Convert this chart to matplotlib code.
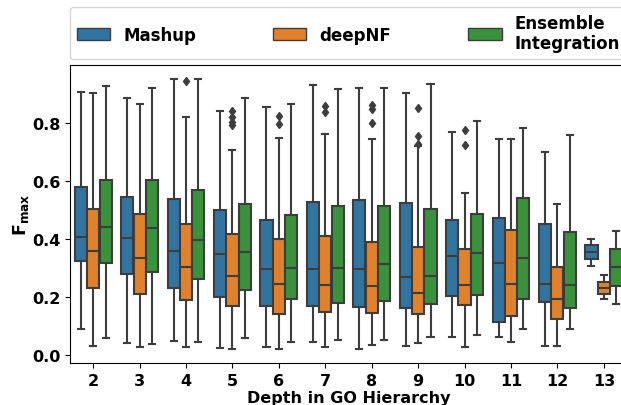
import matplotlib
matplotlib.use("Agg")
import matplotlib.pyplot as plt
from matplotlib.patches import Patch

# Depth categories and methods
depths = ["2", "3", "4", "5", "6", "7", "8", "9", "10", "11", "12", "13"]
methods = ["Mashup", "deepNF", "Ensemble\nIntegration"]

# Mashup five-number summaries per depth
mashup_lo = [0.092, 0.044, 0.050, 0.025, 0.028, 0.045, 0.023, 0.032, 0.065, 0.064, 0.034, 0.309]
mashup_q1 = [0.324, 0.280, 0.232, 0.203, 0.170, 0.170, 0.166, 0.162, 0.204, 0.115, 0.185, 0.332]
mashup_med = [0.408, 0.405, 0.360, 0.351, 0.299, 0.299, 0.298, 0.270, 0.343, 0.318, 0.247, 0.356]
mashup_q3 = [0.581, 0.547, 0.539, 0.501, 0.466, 0.530, 0.536, 0.524, 0.467, 0.473, 0.454, 0.379]
mashup_hi = [0.906, 0.888, 0.952, 0.843, 0.854, 0.932, 0.920, 0.904, 0.771, 0.746, 0.700, 0.402]
mashup_fliers = [[], [], [], [], [], [], [], [], [], [], [], []]

# deepNF
deepnf_lo = [0.032, 0.030, 0.028, 0.023, 0.021, 0.028, 0.036, 0.044, 0.028, 0.046, 0.032, 0.193]
deepnf_q1 = [0.232, 0.211, 0.190, 0.169, 0.142, 0.149, 0.146, 0.142, 0.173, 0.137, 0.127, 0.212]
deepnf_med = [0.361, 0.337, 0.306, 0.275, 0.246, 0.244, 0.240, 0.215, 0.244, 0.246, 0.194, 0.234]
deepnf_q3 = [0.505, 0.487, 0.453, 0.417, 0.402, 0.412, 0.392, 0.373, 0.365, 0.431, 0.304, 0.254]
deepnf_hi = [0.902, 0.867, 0.822, 0.709, 0.749, 0.762, 0.744, 0.721, 0.558, 0.746, 0.523, 0.278]
deepnf_fliers = [[], [], [0.945], [0.840, 0.820, 0.803, 0.792], [0.826, 0.797],
                 [0.858, 0.838], [0.861, 0.847, 0.801], [0.851, 0.754, 0.727],
                 [0.775, 0.726], [], [], []]

# Ensemble Integration
ei_lo = [0.060, 0.041, 0.046, 0.060, 0.046, 0.054, 0.052, 0.065, 0.071, 0.092, 0.090, 0.177]
ei_q1 = [0.317, 0.286, 0.264, 0.226, 0.193, 0.180, 0.188, 0.178, 0.209, 0.196, 0.162, 0.240]
ei_med = [0.444, 0.439, 0.396, 0.356, 0.302, 0.302, 0.316, 0.274, 0.352, 0.337, 0.242, 0.303]
ei_q3 = [0.604, 0.604, 0.570, 0.520, 0.484, 0.513, 0.515, 0.504, 0.488, 0.542, 0.426, 0.365]
ei_hi = [0.929, 0.920, 0.952, 0.886, 0.866, 0.918, 0.920, 0.933, 0.806, 0.783, 0.760, 0.429]
ei_fliers = [[], [], [], [], [], [], [], [], [], [], [], []]

colors = ["#3274a1", "#e1812c", "#3a923a"]
gray = "#3d3d3d"


def make_stats(lo, q1, med, q3, hi, fliers):
    return [dict(whislo=lo[i], q1=q1[i], med=med[i], q3=q3[i], whishi=hi[i],
                 fliers=fliers[i]) for i in range(len(lo))]


series = [
    make_stats(mashup_lo, mashup_q1, mashup_med, mashup_q3, mashup_hi, mashup_fliers),
    make_stats(deepnf_lo, deepnf_q1, deepnf_med, deepnf_q3, deepnf_hi, deepnf_fliers),
    make_stats(ei_lo, ei_q1, ei_med, ei_q3, ei_hi, ei_fliers),
]

plt.rcParams['font.family'] = ['DejaVu Sans']
plt.rcParams['font.weight'] = 'bold'

fig = plt.figure(figsize=(6.21, 4.06), dpi=100)
# axes runs slightly past the right edge, as in the cropped original
ax = fig.add_axes([0.1127, 0.1034, 0.897, 0.734])

group_w = 0.8
box_w = group_w / 3
for k, stats in enumerate(series):
    pos = [i - group_w / 2 + box_w * (k + 0.5) for i in range(len(depths))]
    ax.bxp(stats, positions=pos, widths=box_w * 0.98, patch_artist=True,
           manage_ticks=False,
           boxprops=dict(facecolor=colors[k], edgecolor=gray, linewidth=1.5),
           whiskerprops=dict(color=gray, linewidth=1.5),
           capprops=dict(color=gray, linewidth=1.5),
           medianprops=dict(color=gray, linewidth=1.5),
           flierprops=dict(marker='d', markerfacecolor=gray, markeredgecolor=gray,
                           markersize=4.5, linestyle='none'))

ax.set_xlim(-0.5, len(depths) - 0.5)
ax.set_ylim(-0.026, 1.0)
ax.set_xticks(range(len(depths)))
ax.set_xticklabels(depths)
ax.set_yticks([0.0, 0.2, 0.4, 0.6, 0.8])
ax.tick_params(labelsize=11.5)
for lab in ax.get_xticklabels() + ax.get_yticklabels():
    lab.set_fontweight('bold')

ax.set_xlabel("Depth in GO Hierarchy", fontsize=11.5, fontweight='bold', labelpad=1.5)
ax.set_ylabel(r"$\mathbf{F_{max}}$", fontsize=12.5, labelpad=1)

handles = [Patch(facecolor=colors[k], edgecolor=gray, linewidth=1.0) for k in range(3)]
ax.legend(handles, methods, loc='lower left', bbox_to_anchor=(0, 1.02, 1, 0.2),
          mode='expand', ncol=3, borderaxespad=0,
          prop=dict(size=12, weight='bold'))

fig.savefig("out.png", dpi=100)
